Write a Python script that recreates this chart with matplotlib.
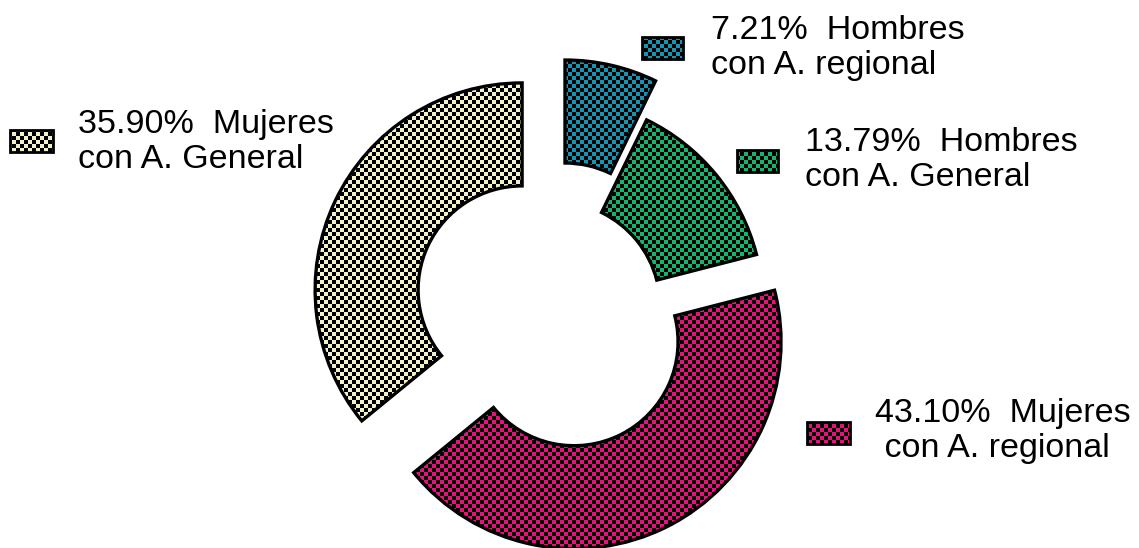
import numpy as np
import matplotlib
matplotlib.use("Agg")
import matplotlib.pyplot as plt
from matplotlib.patches import Rectangle

# slice data, clockwise from 12 o'clock
shares = [7.21, 13.79, 43.10, 35.90]
first_lines = ["Hombres", "Hombres", "Mujeres", "Mujeres"]
second_lines = ["con A. regional", "con A. General", " con A. regional", "con A. General"]
colors = ["#1795b0", "#17b56b", "#e5147a", "#f3f1cb"]

W, H = 1139, 548
CELL = 4  # checker square size in px

plt.rcParams['font.family'] = ['Liberation Sans', 'DejaVu Sans']

fig = plt.figure(figsize=(W / 100, H / 100), dpi=100)
ax = fig.add_axes([0, 0, 1, 1])

wedges, _ = ax.pie(shares, startangle=90, counterclock=False,
                   radius=207, center=(556, H - 306),
                   explode=[40, 0, 40, 37.5],
                   wedgeprops=dict(width=103, facecolor="none",
                                   edgecolor="black", linewidth=2.4),
                   frame=True)

# checkerboard texture (colour / black)
ny, nx = int(np.ceil(H / CELL)), int(np.ceil(W / CELL))
jj, ii = np.meshgrid(np.arange(nx), np.arange(ny))
mask = ((ii + jj) % 2 == 0)


def checker(col):
    rgb = np.array(matplotlib.colors.to_rgb(col))
    img = np.zeros((ny, nx, 3))
    img[mask] = rgb
    return img


for w, c in zip(wedges, colors):
    w.set_zorder(3)
    im = ax.imshow(checker(c), extent=(0, nx * CELL, 0, ny * CELL),
                   origin="lower", interpolation="nearest", zorder=2)
    im.set_clip_path(w)

# label swatches and texts (pixel positions, y from top)
swatches = [(642, 37, 41, 22), (737, 150, 41, 22), (807, 422, 43, 22), (10, 130, 43, 22)]
text_pos = [(711, 15), (805, 127), (875, 398), (78, 109)]

for (sx, sy, sw, sh), (tx, ty), c, v, l1, l2 in zip(swatches, text_pos, colors, shares,
                                                    first_lines, second_lines):
    r = Rectangle((sx, H - sy - sh), sw, sh, facecolor="none",
                  edgecolor="black", linewidth=2, zorder=5)
    ax.add_patch(r)
    im = ax.imshow(checker(c), extent=(0, nx * CELL, 0, ny * CELL),
                   origin="lower", interpolation="nearest", zorder=4)
    im.set_clip_path(r)
    ax.text(tx, H - ty, f"{v:.2f}%  {l1}\n{l2}", ha="left", va="top",
            fontsize=24.5, linespacing=1.17, color="black", zorder=6)

ax.set_xlim(0, W)
ax.set_ylim(0, H)
ax.set_aspect("auto")
ax.axis("off")

fig.savefig("out.png", dpi=100, facecolor="white")
